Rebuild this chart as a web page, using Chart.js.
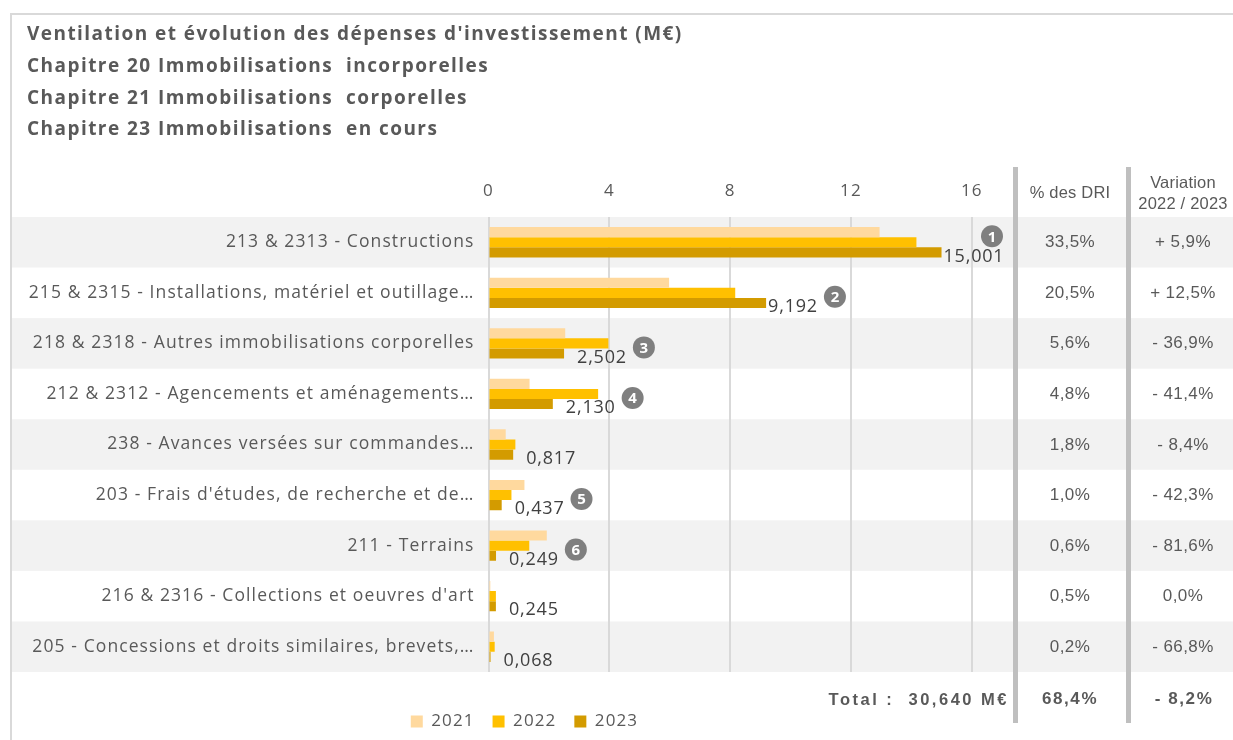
<!DOCTYPE html>
<html lang="fr">
<head>
<meta charset="utf-8">
<title>Dépenses d'investissement</title>
<script src="https://cdn.jsdelivr.net/npm/chart.js@4.4.1/dist/chart.umd.min.js"></script>
<style>
  html, body { margin: 0; padding: 0; background: #fff; }
  #wrap { position: relative; width: 1233px; height: 740px; overflow: hidden; color: #595959; }
  #frame { position: absolute; left: 10px; top: 13px; width: 1300px; height: 800px;
           border-left: 2px solid #d9d9d9; border-top: 2px solid #d9d9d9; }
  #chart { position: absolute; left: 0; top: 0; }
  .title { position: absolute; left: 27px; font: bold 19px "Open Sans", sans-serif; letter-spacing: 1.45px;
           line-height: 24px; transform: translateY(-50%); white-space: nowrap; }
  .sep { position: absolute; top: 167px; width: 5px; height: 556px; background: #bfbfbf; }
  .cell { position: absolute; width: 110px; text-align: center; font: 17px "Liberation Sans", Arial, sans-serif;
          letter-spacing: 0.4px; transform: translate(-50%, -50%); white-space: nowrap; }
  .head { line-height: 21px; font-size: 16.5px; letter-spacing: 0.2px; }
  .bold { font-weight: bold; letter-spacing: 1.6px; }
  #total { position: absolute; right: 224px; top: 699px; transform: translateY(-50%);
           font: bold 16.5px "Liberation Sans", Arial, sans-serif; letter-spacing: 2.5px; white-space: nowrap; }
</style>
</head>
<body>
<div id="wrap">
  <div id="frame"></div>
  <canvas id="chart" width="1233" height="740"></canvas>
  <div class="title" style="top:33px">Ventilation et évolution des dépenses d'investissement (M€)</div>
  <div class="title" style="top:65px">Chapitre 20 Immobilisations &nbsp;incorporelles</div>
  <div class="title" style="top:97px">Chapitre 21 Immobilisations &nbsp;corporelles</div>
  <div class="title" style="top:128px">Chapitre 23 Immobilisations &nbsp;en cours</div>
  <div class="sep" style="left:1013px"></div>
  <div class="sep" style="left:1126px"></div>
  <div class="cell head" style="left:1070px; top:192px">% des DRI</div>
  <div class="cell head" style="left:1183px; top:193px">Variation<br>2022 / 2023</div>
  <div id="cells"></div>
  <div id="total">Total :&nbsp; 30,640 M€</div>
  <div class="cell bold" style="left:1070px; top:699px">68,4%</div>
  <div class="cell bold" style="left:1184px; top:699px">- 8,2%</div>
</div>
<script>
// ---- data ----
const categories = [
  '213 & 2313 - Constructions',
  '215 & 2315 - Installations, matériel et outillage…',
  '218 & 2318 - Autres immobilisations corporelles',
  '212 & 2312 - Agencements et aménagements…',
  '238 - Avances versées sur commandes…',
  "203 - Frais d'études, de recherche et de…",
  '211 - Terrains',
  "216 & 2316 - Collections et oeuvres d'art",
  '205 - Concessions et droits similaires, brevets,…'
];
const years = ['2021', '2022', '2023'];
const values2021 = [12.95, 5.98, 2.54, 1.36, 0.57, 1.19, 1.93, 0.06, 0.18];
const values2022 = [14.17, 8.17, 3.97, 3.63, 0.89, 0.76, 1.35, 0.245, 0.205];
const values2023 = [15.001, 9.192, 2.502, 2.130, 0.817, 0.437, 0.249, 0.245, 0.068];
const shareDRI = ['33,5%', '20,5%', '5,6%', '4,8%', '1,8%', '1,0%', '0,6%', '0,5%', '0,2%'];
const variation = ['+ 5,9%', '+ 12,5%', '- 36,9%', '- 41,4%', '- 8,4%', '- 42,3%', '- 81,6%', '0,0%', '- 66,8%'];
const markers = [1, 2, 3, 4, null, 5, 6, null, null];
const xTicks = [0, 4, 8, 12, 16];

const colors = ['#FFD99E', '#FFC000', '#D39B00'];
const txt = '#595959';
const fam = '"Open Sans", sans-serif';

// alternating row bands across the whole frame (also sets the text spacing used by axes/legend)
const rowBands = {
  id: 'rowBands',
  afterLayout(chart) {
    // legend sits under the left part of the plot, not under the full width
    chart.legend.left += 64;
  },
  beforeDraw(chart) {
    const { ctx, chartArea, scales: { y } } = chart;
    const h = (chartArea.bottom - chartArea.top) / categories.length;
    ctx.save();
    ctx.fillStyle = '#f2f2f2';
    categories.forEach((c, i) => {
      if (i % 2 === 0) ctx.fillRect(12, y.getPixelForValue(i) - h / 2, chart.width - 12, h);
    });
    ctx.restore();
    ctx.letterSpacing = '1.1px';
  }
};

// 2023 value labels + numbered circles
const barLabels = {
  id: 'barLabels',
  afterDatasetsDraw(chart) {
    const { ctx, scales: { y } } = chart;
    const bars = chart.getDatasetMeta(2).data;
    ctx.save();
    bars.forEach((bar, i) => {
      const v = values2023[i];
      const s = v.toFixed(3).replace('.', ',');
      const x = bar.x + (v > 5 ? 2 : 13);
      ctx.font = '18px ' + fam;
      ctx.letterSpacing = '0.8px';
      ctx.fillStyle = '#404040';
      ctx.textAlign = 'left';
      ctx.textBaseline = 'middle';
      ctx.fillText(s, x, bar.y + 4);
      const end = x + ctx.measureText(s).width;
      if (markers[i] != null) {
        const yc = y.getPixelForValue(i);
        let cx = end + 17, cy = yc + 4;
        if (cx > 995) { cx = 992; cy = yc - 6; }
        ctx.beginPath();
        ctx.arc(cx, cy, 11, 0, Math.PI * 2);
        ctx.fillStyle = '#7f7f7f';
        ctx.fill();
        ctx.letterSpacing = '0px';
        ctx.fillStyle = '#fff';
        ctx.font = 'bold 15px ' + fam;
        ctx.textAlign = 'center';
        ctx.fillText(String(markers[i]), cx, cy + 1);
      }
    });
    ctx.restore();
  }
};

const chart = new Chart(document.getElementById('chart'), {
  type: 'bar',
  data: {
    labels: categories,
    datasets: [values2021, values2022, values2023].map((d, i) => ({
      label: years[i],
      data: d,
      backgroundColor: colors[i],
      borderWidth: 0,
      categoryPercentage: 0.6,
      barPercentage: 1.0
    }))
  },
  options: {
    indexAxis: 'y',
    responsive: false,
    animation: false,
    layout: { padding: { left: 0, right: 261.3, top: 160, bottom: 0 } },
    plugins: {
      tooltip: { enabled: false },
      legend: {
        position: 'bottom',
        title: { display: true, text: '', font: { size: 10 }, padding: { top: 11, bottom: 0 } },
        labels: { color: txt, font: { family: fam, size: 17 }, boxWidth: 12, boxHeight: 12, padding: 18 }
      }
    },
    scales: {
      x: {
        position: 'top',
        min: 0,
        max: 16,
        afterBuildTicks: s => { s.ticks = xTicks.map(v => ({ value: v })); },
        afterFit: s => { s.height = 57; },
        grid: { color: '#d9d9d9', lineWidth: 2, drawTicks: false },
        border: { display: false },
        ticks: { color: txt, font: { family: fam, size: 17 }, padding: 16 }
      },
      y: {
        afterFit: s => { s.width = 488.5; },
        grid: { display: false, drawTicks: false },
        border: { display: false },
        ticks: { color: txt, font: { family: fam, size: 17.5 }, padding: 14, autoSkip: false }
      }
    }
  },
  plugins: [rowBands, barLabels]
});

// right-hand columns, aligned on the category rows
const y = chart.scales.y;
const cells = document.getElementById('cells');
categories.forEach((c, i) => {
  const top = y.getPixelForValue(i);
  cells.insertAdjacentHTML('beforeend',
    `<div class="cell" style="left:1070px; top:${top}px">${shareDRI[i]}</div>` +
    `<div class="cell" style="left:1183px; top:${top}px">${variation[i]}</div>`);
});
</script>
</body>
</html>
